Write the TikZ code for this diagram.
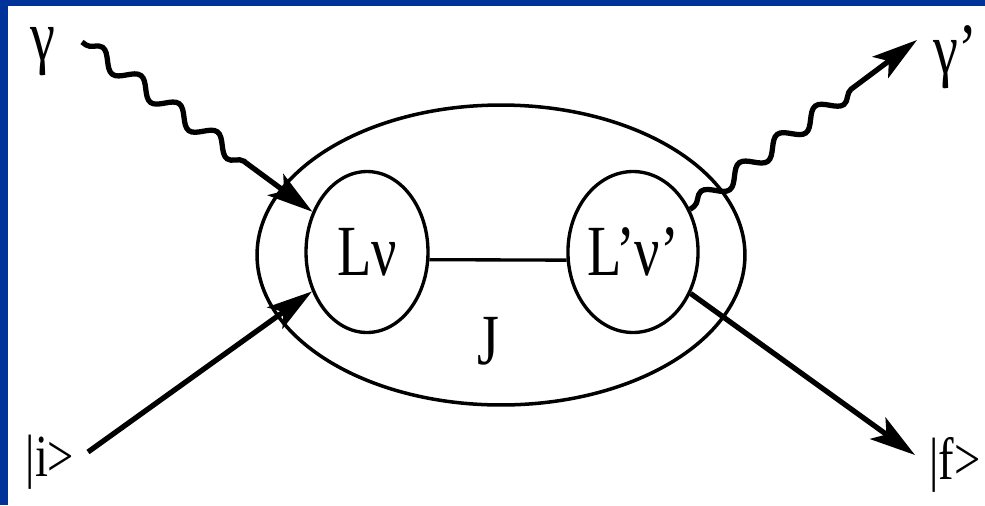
\documentclass[tikz,border=0pt]{standalone}
\usepackage{fontspec}
\setmainfont{Liberation Serif}
\newfontfamily\labfont[FakeStretch=0.78]{Liberation Serif}
\usetikzlibrary{positioning, shapes.geometric, arrows.meta, decorations.pathmorphing}
\definecolor{slideblue}{HTML}{003399}

\begin{document}
\begin{tikzpicture}[
        x=0.02cm, y=-0.02cm,
        lab/.style={inner sep=0pt, font=\labfont\fontsize{41}{41}\selectfont},
        ket/.style={inner sep=0pt, font=\labfont\fontsize{34}{34}\selectfont},
        orbit/.style={draw, ellipse, line width=1.9pt, minimum width=2.44cm, minimum height=3.22cm, inner sep=0pt, font=\labfont\fontsize{41}{41}\selectfont},
        shell/.style={draw, ellipse, line width=2pt, minimum width=9.76cm, minimum height=6cm},
        arrow/.style={-{Stealth[length=26pt, width=15pt, inset=6pt]}, line width=3pt},
        photon/.style={arrow, decorate, decoration={snake, amplitude=1.6mm, segment length=9.5mm, pre length=1mm, post length=1.3cm}}
    ]
    % frame of the slide
    \fill[slideblue] (0,0) rectangle (985,505);
    \fill[white] (8,6) rectangle (985,505);
    \useasboundingbox (0,0) rectangle (985,505);

    \node[shell] (shell) at (501,255) {};
    \node[orbit] (lv) at (367,252) {Lν};
    \node[orbit] (lvp) at (633,252) {L’ν’};
    \node[lab] (j) at (488,341) {J};

    \node[lab] (g) at (43,52) {γ};
    \node[lab] (gp) at (955,57) {γ’};
    \node[ket] (ini) at (50,462) {|i>};
    \node[ket] (fin) at (955,465) {|f>};

    \coordinate (gin) at (82,42);
    \coordinate (gout) at (917,40);
    \coordinate (iin) at (88,452);
    \coordinate (fout) at (915,455);

    \draw[line width=1.9pt] (lv.-7) -- (lvp.187);
    \draw[photon] (gin) -- (lv);
    \draw[photon] (lvp) -- (gout);
    \draw[arrow] (iin) -- (lv);
    \draw[arrow] (lvp) -- (fout);
\end{tikzpicture}
\end{document}
